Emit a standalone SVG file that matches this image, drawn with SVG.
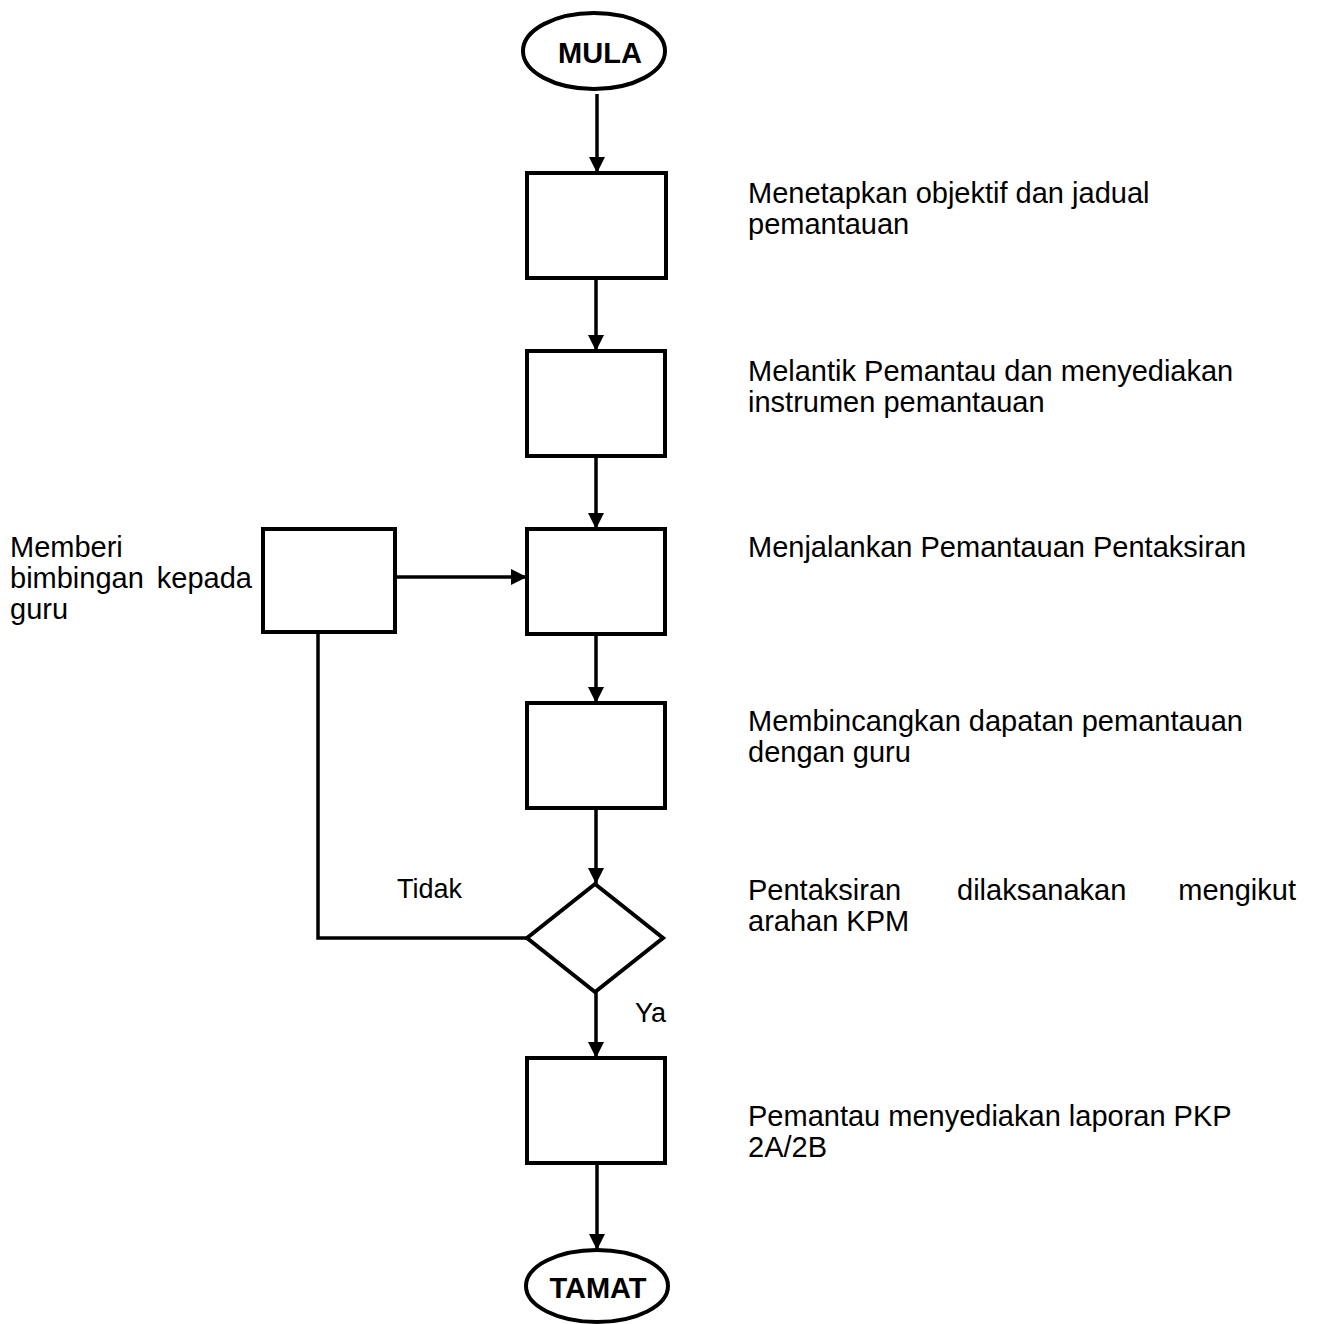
<svg xmlns="http://www.w3.org/2000/svg" width="1317" height="1324" viewBox="0 0 1317 1324">
<defs>
<style>
.shape{fill:#fff;stroke:#000;stroke-width:4}
.conn{fill:none;stroke:#000;stroke-width:3.5}
.t{font-family:"Liberation Sans",Arial,sans-serif;font-size:29px;fill:#000}
.tb{font-family:"Liberation Sans",Arial,sans-serif;font-size:29px;font-weight:bold;fill:#000}
.ts{font-family:"Liberation Sans",Arial,sans-serif;font-size:27px;fill:#000}
</style>
<marker id="ah" markerUnits="userSpaceOnUse" markerWidth="18" markerHeight="18" refX="16" refY="8" orient="auto">
<path d="M0,0 L16,8 L0,16 Z" fill="#000"/>
</marker>
</defs>
<rect width="1317" height="1324" fill="#fff"/>
<g id="connectors">
<line class="conn" x1="597" y1="94" x2="597" y2="173" marker-end="url(#ah)"/>
<line class="conn" x1="596" y1="280" x2="596" y2="351" marker-end="url(#ah)"/>
<line class="conn" x1="596" y1="456" x2="596" y2="529" marker-end="url(#ah)"/>
<line class="conn" x1="596" y1="634" x2="596" y2="703" marker-end="url(#ah)"/>
<line class="conn" x1="596" y1="808" x2="596" y2="884" marker-end="url(#ah)"/>
<line class="conn" x1="596" y1="992" x2="596" y2="1058" marker-end="url(#ah)"/>
<line class="conn" x1="597" y1="1163" x2="597" y2="1250" marker-end="url(#ah)"/>
<line class="conn" x1="395" y1="577" x2="527" y2="577" marker-end="url(#ah)"/>
<polyline class="conn" points="527,938 318,938 318,632"/>
<text class="ts" x="397" y="898">Tidak</text>
<text class="ts" x="635" y="1022">Ya</text>
</g>
<g id="mula">
<ellipse class="shape" cx="594" cy="51" rx="71" ry="38"/>
<text class="tb" x="600" y="63" text-anchor="middle">MULA</text>
</g>
<g id="step1">
<rect class="shape" x="527" y="173" width="139" height="105"/>
<text class="t" x="748" y="203">Menetapkan objektif dan jadual</text>
<text class="t" x="748" y="234">pemantauan</text>
</g>
<g id="step2">
<rect class="shape" x="527" y="351" width="138" height="105"/>
<text class="t" x="748" y="381">Melantik Pemantau dan menyediakan</text>
<text class="t" x="748" y="412">instrumen pemantauan</text>
</g>
<g id="step3">
<rect class="shape" x="527" y="529" width="138" height="105"/>
<text class="t" x="748" y="557">Menjalankan Pemantauan Pentaksiran</text>
</g>
<g id="bimbingan">
<rect class="shape" x="263" y="529" width="132" height="103"/>
<text class="t" x="10" y="557">Memberi</text>
<text class="t" x="10" y="588">bimbingan</text>
<text class="t" x="252" y="588" text-anchor="end">kepada</text>
<text class="t" x="10" y="619">guru</text>
</g>
<g id="step4">
<rect class="shape" x="527" y="703" width="138" height="105"/>
<text class="t" x="748" y="731">Membincangkan dapatan pemantauan</text>
<text class="t" x="748" y="762">dengan guru</text>
</g>
<g id="decision">
<polygon class="shape" points="595,884 663,938 595,992 527,938"/>
<text class="t" x="748" y="900">Pentaksiran</text>
<text class="t" x="957" y="900">dilaksanakan</text>
<text class="t" x="1296" y="900" text-anchor="end">mengikut</text>
<text class="t" x="748" y="931">arahan KPM</text>
</g>
<g id="step5">
<rect class="shape" x="527" y="1058" width="138" height="105"/>
<text class="t" x="748" y="1126">Pemantau menyediakan laporan PKP</text>
<text class="t" x="748" y="1157">2A/2B</text>
</g>
<g id="tamat">
<ellipse class="shape" cx="597" cy="1286" rx="71" ry="36"/>
<text class="tb" x="598" y="1298" text-anchor="middle">TAMAT</text>
</g>
</svg>
